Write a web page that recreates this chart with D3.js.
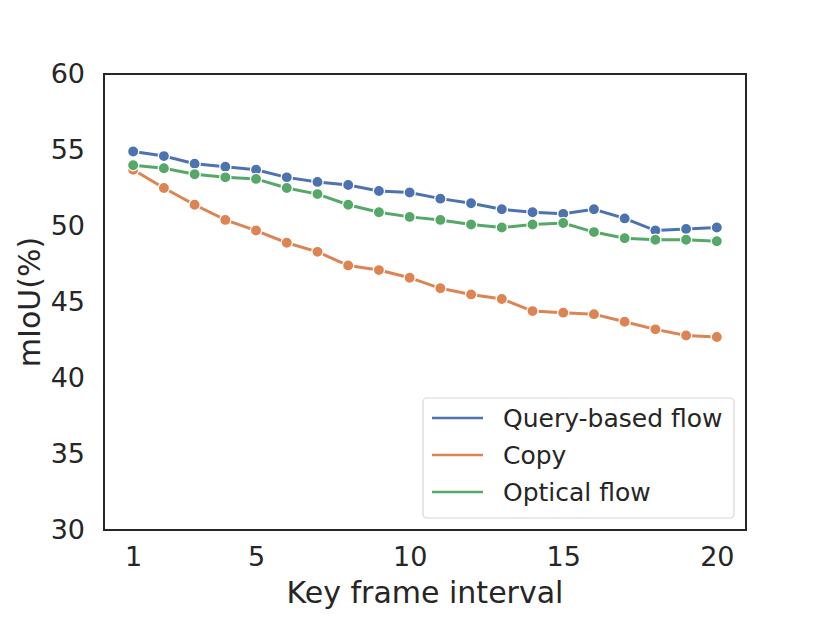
<!DOCTYPE html>
<html>
<head>
<meta charset="utf-8">
<script src="https://cdn.jsdelivr.net/npm/d3@7"></script>
<style>
  body { margin: 0; background: #fff; }
  text { font-family: "DejaVu Sans", sans-serif; fill: #262626; }
</style>
</head>
<body>
<svg id="canvas" width="830" height="623"></svg>
<script>
// key frame intervals
let intervals = d3.range(1, 21)

let queryFlow = [54.9, 54.6, 54.1, 53.9, 53.7, 53.2, 52.9, 52.7, 52.3, 52.2,
                 51.8, 51.5, 51.1, 50.9, 50.8, 51.1, 50.5, 49.7, 49.8, 49.9]
let copyVals  = [53.7, 52.5, 51.4, 50.4, 49.7, 48.9, 48.3, 47.4, 47.1, 46.6,
                 45.9, 45.5, 45.2, 44.4, 44.3, 44.2, 43.7, 43.2, 42.8, 42.7]
let opticalFlow = [54.0, 53.8, 53.4, 53.2, 53.1, 52.5, 52.1, 51.4, 50.9, 50.6,
                   50.4, 50.1, 49.9, 50.1, 50.2, 49.6, 49.2, 49.1, 49.1, 49.0]

let seriesNames = ['Query-based flow', 'Copy', 'Optical flow']
let seriesColors = ['#4c72b0', '#dd8452', '#55a868']
let xTicks = [1, 5, 10, 15, 20]
let yTicks = [30, 35, 40, 45, 50, 55, 60]

let canvas = d3.select('#canvas')
let plotLeft = 104, plotRight = 746, plotTop = 74, plotBottom = 530

let x = d3.scaleLinear().domain([0.05, 20.95]).range([plotLeft, plotRight])
let y = d3.scaleLinear().domain([30, 60]).range([plotBottom, plotTop])

let series = [queryFlow, copyVals, opticalFlow]

// frame
canvas.append('rect')
    .attr('x', plotLeft).attr('y', plotTop)
    .attr('width', plotRight - plotLeft).attr('height', plotBottom - plotTop)
    .style('fill', 'none')
    .style('stroke', '#262626')
    .style('stroke-width', 2)

// x ticks
let xAxis = canvas.append('g')
    .attr('transform', 'translate(0,' + plotBottom + ')')
    .call(d3.axisBottom(x).tickValues(xTicks).tickSize(0).tickPadding(17))
xAxis.select('.domain').remove()
xAxis.selectAll('text').style('font-size', '27px').style('fill', '#262626')
    .style('font-family', '"DejaVu Sans", sans-serif')

// y ticks
let yAxis = canvas.append('g')
    .attr('transform', 'translate(' + plotLeft + ',0)')
    .call(d3.axisLeft(y).tickValues(yTicks).tickSize(0).tickPadding(19))
yAxis.select('.domain').remove()
yAxis.selectAll('text').style('font-size', '27px').style('fill', '#262626')
    .style('font-family', '"DejaVu Sans", sans-serif')

// axis labels
canvas.append('text')
    .attr('x', (plotLeft + plotRight) / 2).attr('y', 603)
    .attr('text-anchor', 'middle')
    .style('font-size', '30px')
    .text('Key frame interval')

canvas.append('text')
    .attr('transform', 'translate(29,' + (plotTop + plotBottom) / 2 + ') rotate(-90)')
    .attr('text-anchor', 'middle')
    .attr('dy', '0.36em')
    .style('font-size', '30px')
    .text('mIoU(%)')

let line = d3.line()
    .x((d, i) => x(intervals[i]))
    .y(d => y(d))

// draw in order: blue, orange, green
series.forEach((vals, k) => {
    canvas.append('path')
        .datum(vals)
        .attr('d', line)
        .style('fill', 'none')
        .style('stroke', seriesColors[k])
        .style('stroke-width', 3)

    canvas.selectAll('.dot' + k)
        .data(vals)
        .enter().append('circle')
        .attr('cx', (d, i) => x(intervals[i]))
        .attr('cy', d => y(d))
        .attr('r', 5.6)
        .style('fill', seriesColors[k])
        .style('stroke', 'white')
        .style('stroke-width', 1.3)
})

// legend
let legend = canvas.append('g')
legend.append('rect')
    .attr('x', 423).attr('y', 398)
    .attr('width', 311).attr('height', 120)
    .attr('rx', 4)
    .style('fill', 'white').style('fill-opacity', 0.8)
    .style('stroke', '#d6d6d6').style('stroke-width', 1.2)

seriesNames.forEach((name, k) => {
    let ly = 418 + k * 37
    legend.append('line')
        .attr('x1', 432).attr('x2', 483)
        .attr('y1', ly).attr('y2', ly)
        .style('stroke', seriesColors[k])
        .style('stroke-width', 2.6)
    legend.append('text')
        .attr('x', 503).attr('y', ly)
        .attr('dominant-baseline', 'central')
        .style('font-size', '25px')
        .text(name)
})
</script>
</body>
</html>
